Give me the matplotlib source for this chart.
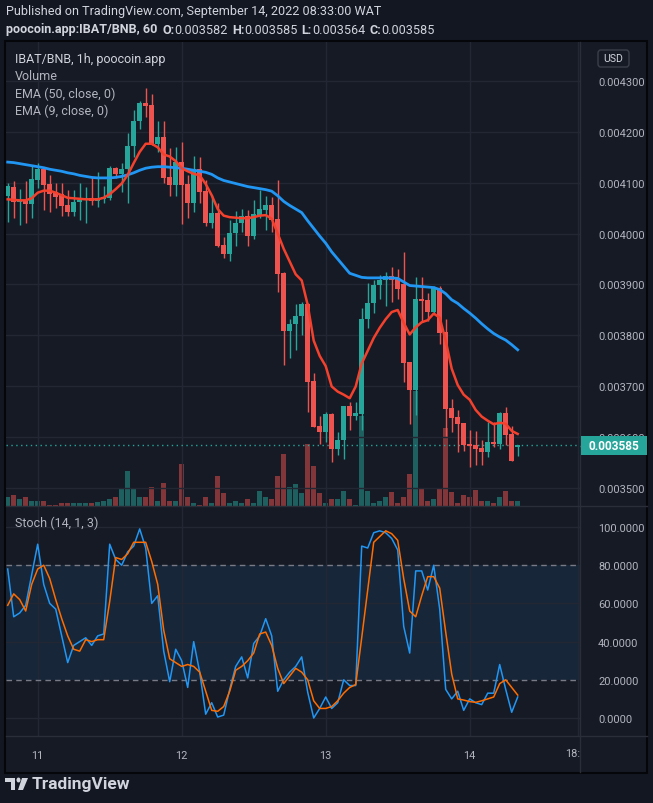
import numpy as np
import matplotlib
matplotlib.use("Agg")
import matplotlib.pyplot as plt
from matplotlib.lines import Line2D
from matplotlib.patches import Rectangle, FancyBboxPatch, Polygon, Circle
from matplotlib.transforms import Bbox

# hourly candles, x = hours from Sep 11 00:00, prices in 1e-6 BNB
hours = np.arange(-5, 81)
opens = [4074, 4092, 4061, 4066, 4058, 4105, 4126, 4097, 4082, 4077, 4056, 4042, 4061, 4065,
         4069, 4063, 4067, 4069, 4128, 4116, 4126, 4172, 4220, 4256, 4251, 4176, 4189, 4110,
         4095, 4141, 4097, 4059, 4126, 4084, 4020, 4040, 3978, 3960, 4001, 4020, 4035, 3995,
         4037, 4046, 4055, 4028, 3922, 3809, 3822, 3839, 3861, 3711, 3622, 3610, 3646, 3578,
         3595, 3661, 3642, 3646, 3832, 3864, 3899, 3909, 3917, 3912, 3901, 3748, 3694, 3871,
         3869, 3846, 3894, 3806, 3657, 3641, 3629, 3588, 3586, 3580, 3572, 3591, 3588, 3649,
         3606, 3582]
highs = [4099, 4102, 4087, 4103, 4135, 4138, 4131, 4115, 4099, 4100, 4086, 4086, 4099, 4092,
         4110, 4121, 4094, 4133, 4131, 4138, 4197, 4242, 4259, 4285, 4273, 4220, 4220, 4167,
         4169, 4180, 4115, 4151, 4150, 4104, 4075, 4060, 3993, 4027, 4044, 4048, 4046, 4066,
         4086, 4073, 4071, 4105, 3925, 3832, 3861, 3866, 3863, 3726, 3643, 3650, 3648, 3610,
         3661, 3669, 3669, 3854, 3903, 3909, 3919, 3924, 3934, 3931, 3963, 3748, 3914, 3914,
         3884, 3898, 3898, 3832, 3676, 3654, 3629, 3614, 3612, 3595, 3630, 3630, 3650, 3659,
         3623, 3585]
lows = [4023, 4030, 4017, 4020, 4030, 4090, 4046, 4043, 4050, 4035, 4035, 4035, 4027, 4020,
        4055, 4052, 4060, 4066, 4108, 4082, 4060, 4150, 4204, 4229, 4174, 4159, 4100, 4073,
        4074, 4019, 4030, 4042, 4059, 4015, 4010, 3974, 3952, 3946, 3976, 4002, 3976, 3989,
        4030, 4006, 4003, 3886, 3742, 3755, 3771, 3801, 3650, 3620, 3588, 3591, 3552, 3565,
        3558, 3615, 3635, 3615, 3814, 3845, 3872, 3858, 3866, 3871, 3709, 3627, 3645, 3829,
        3829, 3843, 3783, 3603, 3611, 3571, 3574, 3542, 3547, 3547, 3561, 3582, 3578, 3586,
        3553, 3564]
closes = [4093, 4061, 4066, 4058, 4106, 4126, 4095, 4077, 4072, 4054, 4042, 4061, 4066, 4069,
          4063, 4069, 4071, 4128, 4116, 4126, 4172, 4220, 4256, 4250, 4176, 4189, 4109, 4095,
          4141, 4095, 4059, 4126, 4081, 4020, 4040, 3975, 3960, 4001, 4020, 4035, 3995, 4038,
          4048, 4056, 4027, 3921, 3809, 3822, 3839, 3861, 3708, 3621, 3610, 3646, 3578, 3595,
          3661, 3643, 3648, 3832, 3864, 3900, 3909, 3917, 3909, 3891, 3746, 3694, 3871, 3867,
          3846, 3894, 3804, 3655, 3639, 3627, 3586, 3584, 3578, 3572, 3591, 3588, 3649, 3604,
          3553, 3585]
volumes = [28, 32, 20, 28, 14, 14, 14, 4, 4, 8, 8, 10, 10, 10, 8, 12, 14, 22, 26, 50, 104, 52,
           26, 26, 56, 14, 68, 16, 16, 125, 28, 8, 4, 28, 8, 89, 38, 8, 14, 10, 20, 10, 44, 28,
           22, 89, 155, 56, 65, 38, 185, 119, 38, 8, 22, 20, 44, 20, 4, 270, 44, 8, 16, 28, 41,
           8, 26, 95, 344, 50, 16, 20, 50, 233, 41, 10, 32, 28, 47, 16, 14, 10, 26, 44, 16, 16]
ema50 = [4140, 4139, 4137, 4135, 4133, 4131, 4129, 4126, 4124, 4122, 4119, 4117, 4114, 4112,
         4110, 4109, 4109, 4109, 4110, 4112, 4115, 4119, 4124, 4128, 4130, 4131, 4131, 4130,
         4129, 4128, 4126, 4124, 4122, 4120, 4116, 4109, 4104, 4101, 4098, 4095, 4092, 4090,
         4088, 4086, 4083, 4074, 4063, 4055, 4048, 4041, 4025, 4010, 3995, 3981, 3964, 3950,
         3936, 3922, 3918, 3914, 3913, 3913, 3913, 3913, 3913, 3912, 3905, 3898, 3897, 3896,
         3895, 3894, 3890, 3882, 3870, 3863, 3853, 3844, 3834, 3823, 3813, 3804, 3797, 3791,
         3782, 3772]
ema9 = [4067, 4066, 4065, 4065, 4069, 4080, 4084, 4084, 4080, 4075, 4070, 4069, 4068, 4067,
        4067, 4067, 4070, 4077, 4087, 4098, 4115, 4138, 4160, 4176, 4176, 4169, 4155, 4151,
        4142, 4128, 4122, 4117, 4114, 4097, 4075, 4048, 4035, 4032, 4031, 4030, 4030, 4032,
        4035, 4036, 4029, 4000, 3970, 3945, 3920, 3908, 3860, 3790, 3760, 3740, 3700, 3690,
        3684, 3677, 3700, 3745, 3770, 3795, 3815, 3832, 3846, 3850, 3825, 3802, 3816, 3826,
        3830, 3843, 3835, 3790, 3735, 3703, 3684, 3674, 3654, 3641, 3633, 3626, 3629, 3627,
        3613, 3607]
stoch_k = [78, 53, 55, 59, 75, 91, 70, 60, 57, 43, 29, 38, 40, 42, 38, 43, 44, 91, 83, 80, 87,
           90, 99, 89, 60, 64, 35, 19, 36, 30, 16, 40, 24, 2, 8, 0.5, 1.5, 15, 27, 32, 21, 39,
           43, 52, 43, 14, 20, 24, 27, 32, 13.5, 0, 5, 11, 5, 8, 20, 17, 17, 90, 89, 97, 98, 97,
           94, 88, 48, 34, 77, 77, 67, 80, 57, 15, 10, 14, 4, 10, 8, 7, 13, 13, 28, 15, 3, 11]
stoch_d = [59, 65, 62, 56, 70, 78, 80, 73, 62, 52, 43, 36, 35, 41, 40, 41, 41, 61, 84, 83, 86,
           92, 92, 92, 82, 70, 46, 31, 29, 27, 28, 27, 24, 14, 4, 3.5, 6, 14, 25, 27, 30, 34,
           44, 45, 38, 26, 18, 22, 26, 24, 20, 9, 5, 5, 6, 9, 13, 16, 17.5, 42, 67, 92, 95, 98,
           96.5, 93, 73, 56, 53, 64, 74, 74, 68, 45, 23, 10, 9.4, 8.6, 8.2, 9, 10, 11, 18, 20,
           16, 12]

price_ticks = [3500, 3600, 3700, 3800, 3900, 4000, 4100, 4200, 4300]
stoch_ticks = [0, 20, 40, 60, 80, 100]
day_ticks = [0, 24, 48, 72, 90]
day_labels = ["11", "12", "13", "14"]
last_price = 3585

W, H = 653, 804
BG = "#131722"
PANE = "#161a25"
GRID = "#232733"
SEP = "#2a2e39"
TXT = "#b2b5be"
TXT2 = "#d1d4dc"
UP = "#26a69a"
DN = "#ef5350"
FS = 7.9

plt.rcParams["font.family"] = ["Roboto", "DejaVu Sans"]


def rect(x0, y0, x1, y1):
    return [x0 / W, 1 - y1 / H, (x1 - x0) / W, (y1 - y0) / H]


def fline(x0, y0, x1, y1, color=SEP, lw=1.0):
    fig.add_artist(Line2D([x0 / W, x1 / W], [1 - y0 / H, 1 - y1 / H],
                          transform=fig.transFigure, color=color, lw=lw))


def fpoly(xs, ys, color):
    fig.add_artist(Polygon(np.c_[np.array(xs) / W, 1 - np.array(ys) / H], closed=True,
                           transform=fig.transFigure, facecolor=color, lw=0))


fig = plt.figure(figsize=(W / 100, H / 100), dpi=100, facecolor=BG)

# chart frame
fig.add_artist(Rectangle((5 / W, 1 - 774 / H), 642 / W, 732 / H, transform=fig.transFigure,
                         facecolor=PANE, edgecolor="#05060a", lw=1.5, zorder=0))

xlim = ((6 - 37.7) / 6, (580 - 37.7) / 6)
o = np.array(opens)
c = np.array(closes)
cols = [UP if cc >= oo else DN for oo, cc in zip(o, c)]

# volume (behind)
axv = fig.add_axes(rect(6, 43, 580, 507))
axv.set_facecolor(PANE)
axv.bar(hours, volumes, width=0.8, color=cols, alpha=0.5, lw=0)
axv.set_ylim(0, 1392)
axv.set_xlim(xlim)
axv.axis("off")

# price pane
ax = fig.add_axes(rect(6, 43, 580, 507))
ax.set_facecolor("none")
ax.set_xlim(xlim)
ax.set_ylim(3600 - 68.5 / 0.51, 3600 + 395.5 / 0.51)
for t in price_ticks:
    ax.axhline(t, color=GRID, lw=1, zorder=0)
for t in day_ticks:
    ax.axvline(t, color=GRID, lw=1, zorder=0)
ax.vlines(hours, lows, highs, color=cols, lw=1, zorder=2)
ax.bar(hours, np.maximum(np.abs(c - o), 1.5), bottom=np.minimum(o, c), width=0.78,
       color=cols, lw=0, zorder=3)
ax.plot(hours, ema50, color="#2196f3", lw=2, zorder=4)
ax.plot(hours, ema9, color="#f4412d", lw=1.8, zorder=4)
ax.axhline(last_price, color=UP, ls=(0, (1, 2.5)), lw=1, zorder=1)
ax.set_xticks([])
ax.yaxis.tick_right()
ax.set_yticks(price_ticks, [f"{t * 1e-6:.6f}" for t in price_ticks])
ax.tick_params(axis="y", length=0, pad=13, labelcolor=TXT, labelsize=FS)
for s in ax.spines.values():
    s.set_visible(False)
# the 0.003600 label sits half under the last-price badge
for lab in ax.get_yticklabels():
    if lab.get_text() == "0.003600":
        lab.set_clip_box(Bbox([[580, H - 437], [W, H]]))
        lab.set_clip_on(True)

ax.text(9 / 574, 1 - 17 / 464, "IBAT/BNB, 1h, poocoin.app", transform=ax.transAxes,
        color=TXT2, fontsize=9, va="center")
for i, lab in enumerate(["Volume", "EMA (50, close, 0)", "EMA (9, close, 0)"]):
    ax.text(9 / 574, 1 - (34 + 17 * i) / 464, lab, transform=ax.transAxes,
            color=TXT, fontsize=9, va="center")

# stochastic pane
axs = fig.add_axes(rect(6, 507, 580, 737))
axs.set_facecolor("none")
axs.set_xlim(xlim)
axs.set_ylim((719 - 737) / 1.91, (719 - 507) / 1.91)
axs.axhspan(20, 80, color="#2196f3", alpha=0.1, lw=0, zorder=0)
for t in [0, 40, 60, 100]:
    axs.axhline(t, color=GRID, lw=1, zorder=0)
for t in day_ticks:
    axs.axvline(t, color=GRID, lw=1, zorder=0)
for t in [20, 80]:
    axs.axhline(t, color="#787b86", lw=1, ls=(0, (4, 3)), zorder=1)
axs.plot(hours, stoch_k, color="#2196f3", lw=1.1, zorder=3)
axs.plot(hours, stoch_d, color="#ff6d00", lw=1.1, zorder=3)
axs.yaxis.tick_right()
axs.set_yticks(stoch_ticks, [f"{t:.4f}" for t in stoch_ticks])
axs.tick_params(axis="y", length=0, pad=13, labelcolor=TXT, labelsize=FS)
axs.set_xticks(day_ticks[:4], day_labels)
axs.tick_params(axis="x", length=0, pad=10, labelcolor=TXT, labelsize=FS)
for s in axs.spines.values():
    s.set_visible(False)
axs.text(9 / 574, 1 - 16 / 230, "Stoch (14, 1, 3)", transform=axs.transAxes,
         color=TXT, fontsize=9, va="center")
fig.text(580 / W, 1 - 754 / H, "18:", color=TXT, fontsize=FS, ha="right", va="center")

# separators
fline(6, 507, 647, 507)
fline(6, 737, 647, 737)
fline(580, 43, 580, 773)

# USD badge
fig.add_artist(FancyBboxPatch((598 / W, 1 - 68 / H), 31 / W, 17 / H,
                              boxstyle="round,pad=0,rounding_size=0.004",
                              transform=fig.transFigure, facecolor=PANE,
                              edgecolor="#3a3e4a", lw=1, zorder=5))
fig.text(613.5 / W, 1 - 59.5 / H, "USD", color=TXT2, fontsize=7.6, ha="center", va="center",
         zorder=6)

# last price badge
fig.add_artist(Rectangle((581 / W, 1 - 456 / H), 66 / W, 19 / H, transform=fig.transFigure,
                         facecolor=UP, edgecolor="none", zorder=5))
fline(581, 446.5, 585, 446.5, color="#ffffff")
fig.text(614 / W, 1 - 446.5 / H, f"{last_price * 1e-6:.6f}", color="white", fontsize=8.6,
         ha="center", va="center", weight="bold", zorder=6)

# header
fig.text(6 / W, 1 - 12 / H, "Published on TradingView.com, September 14, 2022 08:33:00 WAT",
         color=TXT2, fontsize=9.1, va="center")
r = fig.canvas.get_renderer()
parts = [("poocoin.app:IBAT/BNB, 60", "bold", 5), ("O:", "bold", 0), ("0.003582", "normal", 4),
         ("H:", "bold", 0), ("0.003585", "normal", 4), ("L:", "bold", 0),
         ("0.003564", "normal", 4), ("C:", "bold", 0), ("0.003585", "normal", 0)]
x = 6
for s, wgt, gap in parts:
    t = fig.text(x / W, 1 - 30 / H, s, color=TXT2, fontsize=9.1, weight=wgt, va="center")
    x += t.get_window_extent(r).width + gap

# TradingView logo
lc = "#d1d4dc"
fpoly([5, 15, 15, 11, 11, 5], [779, 779, 791, 791, 783, 783], lc)
fig.add_artist(Circle((18.5 / W, 1 - 781 / H), 2 / W, transform=fig.transFigure,
                      facecolor=lc, lw=0))
fpoly([22, 28, 23, 18], [779, 779, 791, 791], lc)
fig.text(32 / W, 1 - 785 / H, "TradingView", color=lc, fontsize=12.5, weight="bold",
         va="center")

fig.savefig("out.png", dpi=100, facecolor=BG)
